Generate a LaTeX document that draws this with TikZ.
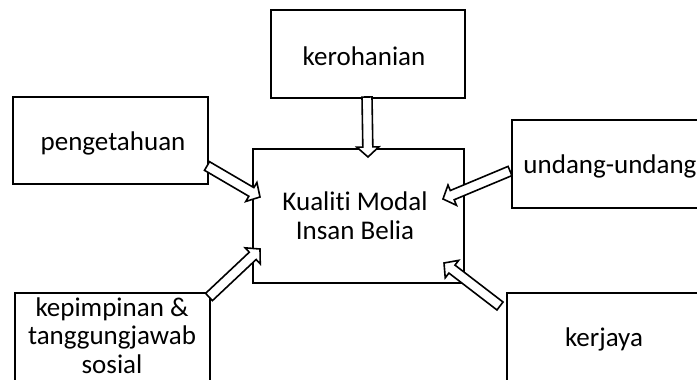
\documentclass[tikz,border=0pt]{standalone}
\usepackage{fontspec}
\setmainfont[Ligatures=NoCommon]{Carlito}
\usetikzlibrary{calc}
\newdimen\arrdx
\newdimen\arrdy
\newcommand\blockarr[2]{%
  \pgfextractx{\arrdx}{\pgfpointdiff{\pgfpointanchor{#1}{center}}{\pgfpointanchor{#2}{center}}}%
  \pgfextracty{\arrdy}{\pgfpointdiff{\pgfpointanchor{#1}{center}}{\pgfpointanchor{#2}{center}}}%
  \pgfmathsetmacro\arrlen{veclen(\arrdx,\arrdy)}%
  \pgfmathsetmacro\arrang{atan2(\arrdy,\arrdx)}%
  \pgfmathsetmacro\arrbase{\arrlen-10}%
  \draw[blockarrow, shift={(#1)}, rotate=\arrang]
    (0,5) -- (\arrbase,5) -- (\arrbase,11) -- (\arrlen,0) -- (\arrbase,-11)
    -- (\arrbase,-5) -- (0,-5) -- cycle;}
\begin{document}
\begin{tikzpicture}[x=1pt,y=-1pt,
  box/.style={draw=black, line width=2pt, rectangle, inner sep=0pt, anchor=north west},
  lbl/.style={inner sep=0pt, anchor=base, font=\fontsize{27}{28.5}\selectfont, align=center},
  blockarrow/.style={draw=black, fill=white, line width=1.6pt, line join=miter}]
\useasboundingbox (0,0) rectangle (697,380);
\clip (0,0) rectangle (697,380);
% boxes
\node[box, minimum width=194pt, minimum height=88pt] (ker) at (270,9) {};
\node[box, minimum width=195pt, minimum height=87pt] (pen) at (12,96) {};
\node[box, minimum width=211pt, minimum height=134pt] (mid) at (252,148) {};
\node[box, minimum width=220pt, minimum height=88pt] (und) at (511,119) {};
\node[box, minimum width=195pt, minimum height=110pt] (kep) at (14,292) {};
\node[box, minimum width=220pt, minimum height=110pt] (kja) at (506,292) {};
% labels (base = baseline of last line)
\node[lbl] (tker) at (364,65) {kerohanian};
\node[lbl] (tpen) at (113,150) {pengetahuan};
\node[lbl] (tmid) at (355,239) {Kualiti Modal\\Insan Belia};
\node[lbl] (tund) at (610,173) {undang-undang};
\node[lbl] (tkep) at (112,373) {kepimpinan \&\\tanggungjawab\\sosial};
\node[lbl] (tkja) at (604,346) {kerjaya};
% arrow ends
\coordinate (a1s) at (367,97);  \coordinate (a1e) at (368,157);
\coordinate (a2s) at (207,166); \coordinate (a2e) at (260,197);
\coordinate (a3s) at (510,171); \coordinate (a3e) at (443,199);
\coordinate (a4s) at (209,297); \coordinate (a4e) at (260,249);
\coordinate (a5s) at (500,306); \coordinate (a5e) at (444,263);
\blockarr{a1s}{a1e}
\blockarr{a2s}{a2e}
\blockarr{a3s}{a3e}
\blockarr{a4s}{a4e}
\blockarr{a5s}{a5e}
\end{tikzpicture}
\end{document}
